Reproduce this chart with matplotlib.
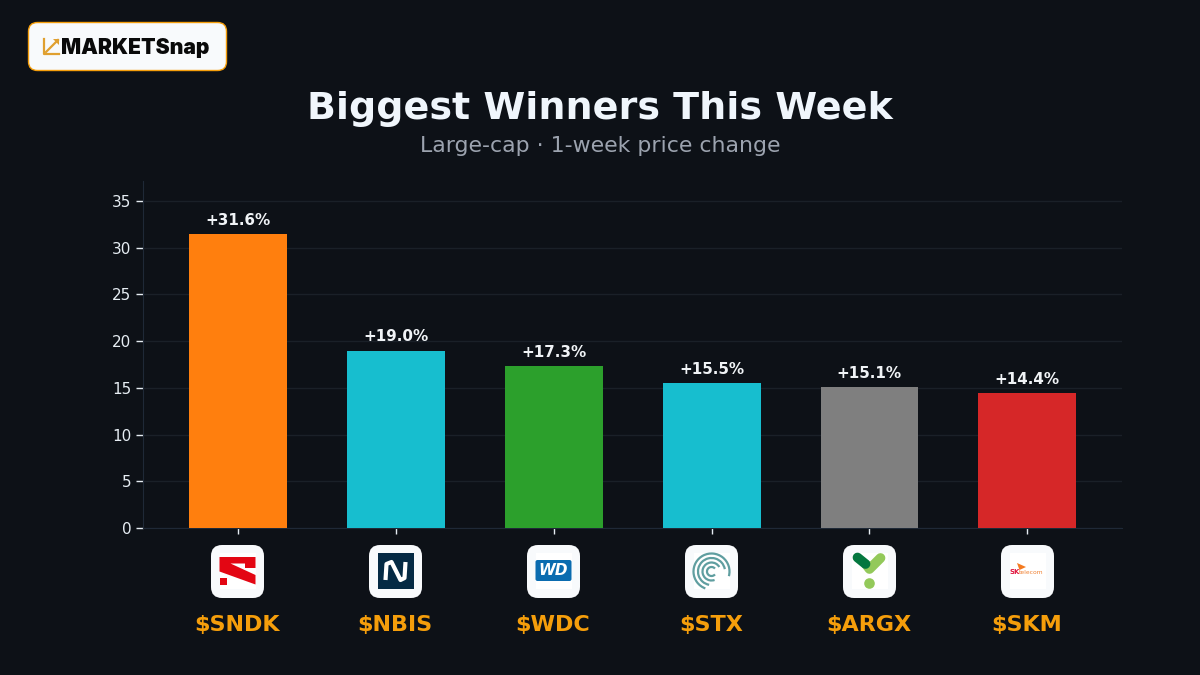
import matplotlib
matplotlib.use("Agg")
import matplotlib.pyplot as plt
from matplotlib.patches import FancyBboxPatch, Rectangle, Polygon, Circle, Arc

# 数据
tickers = ["$SNDK", "$NBIS", "$WDC", "$STX", "$ARGX", "$SKM"]
changes = [31.5, 19.0, 17.3, 15.5, 15.1, 14.4]
labels = ["+31.6%", "+19.0%", "+17.3%", "+15.5%", "+15.1%", "+14.4%"]
colors = ["#ff7f0e", "#17becf", "#2ca02c", "#17becf", "#7f7f7f", "#d62728"]
y_ticks = [0, 5, 10, 15, 20, 25, 30, 35]

BG = "#0d1117"
ORANGE = "#f59e0b"

fig = plt.figure(figsize=(12, 6.75), dpi=100, facecolor=BG)
ax = fig.add_axes([143 / 1200, 1 - 528 / 675, 979 / 1200, 347 / 675], facecolor=BG)

xs = list(range(len(tickers)))
ax.bar(xs, changes, width=0.62, color=colors, zorder=3)
for x, v, s in zip(xs, changes, labels):
    ax.annotate(s, (x, v), xytext=(0, 4.5), textcoords="offset points", ha="center", va="bottom",
                color="#f0f3f6", fontsize=10.9, fontweight="bold")

ax.set_xlim(-0.602, 5.6)
ax.set_ylim(0, 37.15)
ax.set_yticks(y_ticks)
ax.set_xticks(xs)
ax.set_xticklabels([])
ax.tick_params(axis="y", colors="#e6edf3", labelsize=11, length=5, width=1)
ax.tick_params(axis="x", colors="#e6edf3", length=4, width=1)
ax.grid(axis="y", color="#1a2028", linewidth=1, zorder=0)
ax.set_axisbelow(True)
for side in ["top", "right"]:
    ax.spines[side].set_visible(False)
for side in ["left", "bottom"]:
    ax.spines[side].set_color("#1f2937")

# 像素坐标的覆盖层，放 logo 和文字
ov = fig.add_axes([0, 0, 1, 1], facecolor="none")
ov.set_xlim(0, 1200)
ov.set_ylim(675, 0)
ov.axis("off")

ov.text(600, 109, "Biggest Winners This Week", ha="center", va="center", color="#f0f6fc",
        fontsize=27.4, fontweight="bold")
ov.text(600, 146.5, "Large-cap · 1-week price change", ha="center", va="center", color="#9ca3af",
        fontsize=15.8)

# 左上角 logo
ov.add_patch(FancyBboxPatch((28.5, 22.5), 198, 48, boxstyle="round,pad=0,rounding_size=9",
                            fc="#f8fafc", ec=ORANGE, lw=1))
ov.plot([44, 44, 59], [39, 54, 54], color="#e0a030", lw=1.6)
ov.plot([46, 58], [52, 40], color="#e0a030", lw=1.6)
ov.add_patch(Polygon([[53, 39], [59, 39], [59, 45]], fc="#e0a030"))
ov.text(61, 47.5, "MARKETSnap", ha="left", va="center", color="#0a0a0a", fontsize=15.2,
        fontweight="black", family="Inter")


def tile(cx):
    ov.add_patch(FancyBboxPatch((cx - 26.5, 545), 53, 53, boxstyle="round,pad=0,rounding_size=11",
                                fc="#f8fafc", ec="none"))
    ov.add_patch(Rectangle((cx - 18, 553), 36, 36, fc="white", ec="none"))


centers = [237.5, 395.5, 553.5, 711.5, 869.5, 1027.5]
for c, t in zip(centers, tickers):
    tile(c)
    ov.text(c - 0.5, 624.5, t, ha="center", va="center", color=ORANGE, fontsize=16, fontweight="bold")

# SNDK
c = centers[0]
ov.add_patch(Polygon([[c - 18, 557], [c + 18, 557], [c + 18, 568], [c + 7.5, 568], [c + 7.5, 563.5],
                      [c - 7, 563.5], [c + 18, 575], [c + 18, 584.5], [c - 18, 571.5]],
                     fc="#e30613"))
ov.add_patch(Rectangle((c - 18, 578), 7, 7, fc="#e30613"))

# NBIS
c = centers[1]
ov.add_patch(Rectangle((c - 18, 553), 36, 36, fc="#052a44"))
ov.plot([c - 10, c - 9, c - 4, c + 1, c + 5, c + 9, c + 10],
        [580, 564, 562, 572, 580, 578, 562], color="white", lw=3, solid_capstyle="butt")

# WDC
c = centers[2]
ov.add_patch(FancyBboxPatch((c - 18, 560), 36, 21, boxstyle="round,pad=0,rounding_size=2",
                            fc="#0b6cb0", ec="none"))
ov.text(c, 570.5, "WD", ha="center", va="center", color="white", fontsize=11, fontweight="bold",
        style="italic")

# STX，角度按屏幕上的逆时针给
c = centers[3]
for r, a1, a2 in [(18, -15, 250), (13.5, 10, 260), (9, 30, 290), (4.5, 40, 320)]:
    ov.add_patch(Arc((c, 571.5), 2 * r, 2 * r, theta1=-a2, theta2=-a1, color="#5f9ea0", lw=1.6))

# ARGX
c = centers[4]
ov.plot([c - 3, c, c + 11], [565, 569, 558], color="#93c95a", lw=7, solid_capstyle="round")
ov.plot([c - 12, c - 4], [557.5, 564], color="#04773f", lw=7, solid_capstyle="round")
ov.add_patch(Circle((c, 583.5), 5.3, fc="#93c95a"))

# SKM
c = centers[5]
ov.add_patch(Polygon([[c - 10.5, 563], [c - 1.5, 567], [c - 8, 570]], fc="#f47a20"))
ov.text(c - 12.5, 572, "SK", ha="center", va="center", color="#e0133c", fontsize=5, fontweight="bold")
ov.text(c + 3.8, 572.5, "telecom", ha="center", va="center", color="#f08030", fontsize=4.3)

fig.savefig("out.png", dpi=100, facecolor=BG)
